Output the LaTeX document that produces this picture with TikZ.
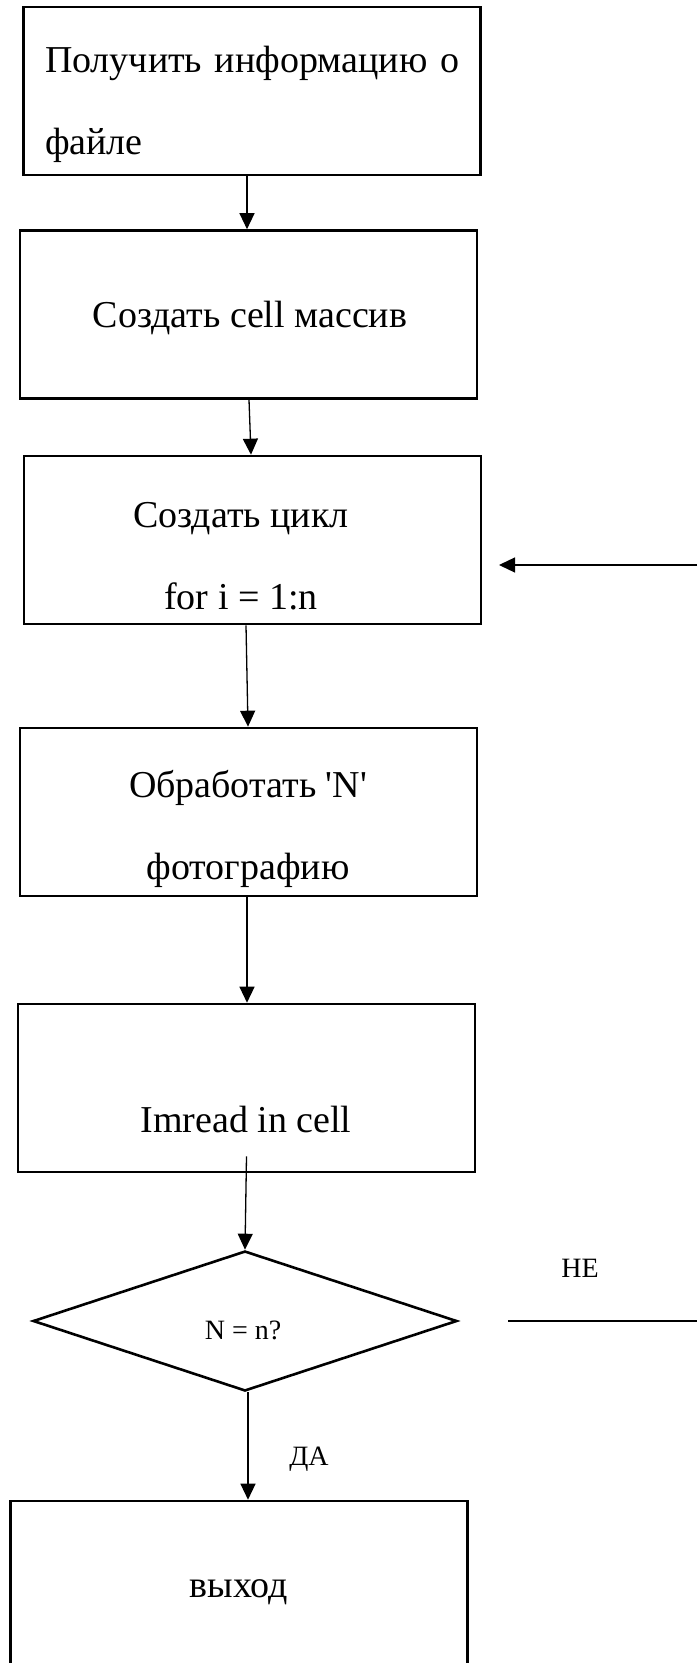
\documentclass[tikz,border=0pt]{standalone}
\usepackage{fontspec}
\setmainfont{Liberation Serif}
\usetikzlibrary{arrows.meta,shapes.geometric}

\tikzset{
  blok/.style={draw,line width=1.3pt,inner sep=0pt,minimum width=228.5pt,minimum height=84pt},
  txt/.style={font=\fontsize{19}{41}\selectfont,align=center,inner sep=0pt},
  small/.style={font=\fontsize{14}{17}\selectfont,inner sep=0pt},
  arr/.style={line width=0.65pt,-{Triangle[length=8pt,width=7.5pt]}},
  lin/.style={line width=0.65pt}
}

\begin{document}
\begin{tikzpicture}[x=0.5pt,y=-0.5pt]
  \useasboundingbox (0,0) rectangle (697,1663);

  \node[blok] (b1) at (252,91) {};
  \node[blok] (b2) at (248.5,314.5) {};
  \node[blok] (b3) at (252.5,540) {};
  \node[blok] (b4) at (248.5,812) {};
  \node[blok] (b5) at (246.5,1088) {};
  \node[blok] (b6) at (239,1585) {};
  \node[draw,line width=1.3pt,shape=diamond,inner sep=0pt,minimum width=212pt,minimum height=70pt] (dq) at (245,1321) {};

  \node[txt,text width=207pt,align=left] (t1) at (252,104.5)
    {\makebox[207pt][s]{Получить информацию о}\\файле};
  \node[txt] (t2) at (250,318) {Создать cell массив};
  \node[txt] (t3) at (241,556) {Создать цикл\\for i = 1:n};
  \node[txt] (t4) at (248,829) {Обработать \textquotesingle N\textquotesingle\\фотографию};
  \node[txt] (t5) at (246,1119) {Imread in cell};
  \node[txt] (t6) at (239,1592) {выход};
  \node[small] (tq) at (243,1330) {N = n?};
  \node[small] (tne) at (580,1268) {НЕ};
  \node[small] (tda) at (309,1459) {ДА};

  \coordinate (lpin) at (697,565);
  \coordinate (lpend) at (499,565);
  \coordinate (ne1) at (508,1321);
  \coordinate (ne2) at (697,1321);

  \draw[arr] ([xshift=-2.5pt]b1.south) -- ([xshift=-0.75pt]b2.north);
  \draw[arr] ([xshift=0.25pt]b2.south) -- ([xshift=-0.75pt]b3.north);
  \draw[arr] ([xshift=-3.25pt]b3.south) -- ([xshift=-0.25pt]b4.north);
  \draw[arr] ([xshift=-0.75pt]b4.south) -- ([xshift=0.25pt]b5.north);
  \draw[arr] ([yshift=8.5pt]b5.south) -- (dq.north);
  \draw[arr] ([xshift=1.5pt]dq.south) -- ([xshift=4.5pt]b6.north);
  \draw[arr] (lpin) -- (lpend);
  \draw[lin] (ne1) -- (ne2);
\end{tikzpicture}
\end{document}
